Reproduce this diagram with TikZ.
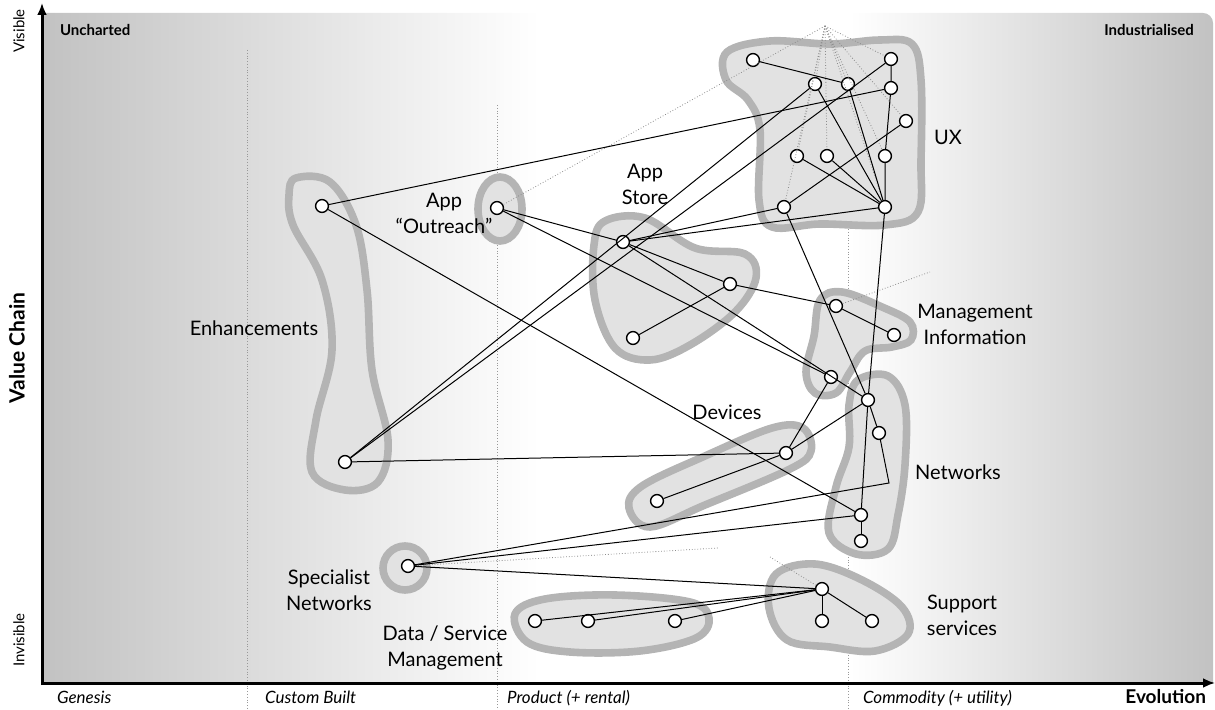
\documentclass[tikz,border=0pt]{standalone}
\usepackage{fontspec}
\setmainfont{Lato}
\usetikzlibrary{arrows.meta}
\definecolor{blobfill}{HTML}{E2E2E2}
\definecolor{blobedge}{HTML}{B4B4B4}
\definecolor{mapshade}{HTML}{C2C2C2}

\begin{document}
\begin{tikzpicture}[x=0.5pt, y=-0.5pt,
  comp/.style={circle, draw, fill=white, line width=0.7pt, minimum size=6.4pt, inner sep=0pt},
  link/.style={line width=0.5pt},
  hint/.style={densely dotted, line width=0.4pt, black!45},
  blob/.style={fill=blobfill, draw=blobedge, line width=3.8pt},
  lbl/.style={font=\fontsize{10}{13}\selectfont, align=center},
  phase/.style={font=\fontsize{8.5}{10}\selectfont\itshape, anchor=base west},
  corner/.style={font=\fontsize{7.5}{9}\selectfont\bfseries},
  divider/.style={densely dotted, line width=0.4pt, black!40},
  axis/.style={line width=1.5pt, -{Latex[length=6pt,width=5pt]}}
]
\useasboundingbox (0,0) rectangle (1215,710);

\begin{scope}
\clip (42,683) -- (42,13) [rounded corners=5pt] -- (1213,13) [sharp corners] -- (1213,683) -- cycle;
\shade[left color=mapshade, right color=white] (42,13) rectangle (540,683);
\shade[left color=white, right color=mapshade] (850,13) rectangle (1213,683);
\end{scope}

\draw[divider] (247,50) -- (247,710);
\draw[divider] (497,105) -- (497,710);
\draw[divider] (848,50) -- (848,710);

% clusters
\draw[blob] plot[smooth cycle, tension=0.6] coordinates {(727,52) (770,41) (830,44) (880,40) (912,44) (921,80) (921,160) (918,212) (885,225) (820,224) (772,227) (759,200) (760,130) (748,100) (726,80)};
\draw[blob] plot[smooth cycle, tension=0.6] coordinates {(296,178) (330,182) (356,225) (367,290) (372,370) (388,440) (378,482) (345,490) (312,472) (316,420) (332,350) (322,280) (293,225) (289,195)};
\draw[blob] (500,209) ellipse [x radius=22, y radius=32];
\draw[blob] plot[smooth cycle, tension=0.6] coordinates {(605,221) (645,218) (695,248) (745,254) (756,278) (735,312) (690,345) (650,360) (615,348) (595,300) (594,245)};
\draw[blob] plot[smooth cycle, tension=0.6] coordinates {(820,300) (842,292) (882,307) (910,322) (911,340) (892,347) (865,351) (850,372) (836,393) (815,393) (806,372) (814,336)};
\draw[blob] plot[smooth cycle, tension=0.6] coordinates {(858,380) (888,376) (905,405) (905,465) (898,515) (888,549) (856,554) (829,533) (836,487) (849,447) (849,405)};
\draw[blob] plot[smooth cycle, tension=0.6] coordinates {(642,486) (705,456) (772,428) (803,428) (811,451) (790,469) (705,505) (650,527) (629,508)};
\draw[blob] (405,568) circle [radius=22];
\draw[blob] plot[smooth cycle, tension=0.6] coordinates {(515,614) (545,599) (615,595) (690,602) (709,618) (696,638) (640,651) (570,652) (527,642)};
\draw[blob] plot[smooth cycle, tension=0.6] coordinates {(776,574) (815,564) (862,580) (902,607) (908,634) (875,651) (830,647) (787,640) (769,608)};

% components
\node[comp] (ux1) at (753,60) {};
\node[comp] (ux2) at (815,84) {};
\node[comp] (ux3) at (848,84) {};
\node[comp] (ux4) at (891,59) {};
\node[comp] (ux5) at (891,88) {};
\node[comp] (ux6) at (906,121) {};
\node[comp] (ux7) at (797,156) {};
\node[comp] (ux8) at (827,156) {};
\node[comp] (ux9) at (885,156) {};
\node[comp] (ux10) at (784,207) {};
\node[comp] (ux11) at (885,207) {};
\node[comp] (enh1) at (322,206) {};
\node[comp] (enh2) at (345,462) {};
\node[comp] (outr) at (497,208) {};
\node[comp] (as1) at (623,242) {};
\node[comp] (as2) at (730,284) {};
\node[comp] (as3) at (633,338) {};
\node[comp] (mi1) at (836,306) {};
\node[comp] (mi2) at (894,335) {};
\node[comp] (mi3) at (831,377) {};
\node[comp] (net1) at (868,400) {};
\node[comp] (net2) at (879,433) {};
\node[comp] (net3) at (861,515) {};
\node[comp] (net4) at (861,541) {};
\node[comp] (dev1) at (786,453) {};
\node[comp] (dev2) at (657,501) {};
\node[comp] (spec) at (408,566) {};
\node[comp] (ds1) at (535,621) {};
\node[comp] (ds2) at (588,621) {};
\node[comp] (ds3) at (675,621) {};
\node[comp] (sup1) at (822,589) {};
\node[comp] (sup2) at (822,621) {};
\node[comp] (sup3) at (872,621) {};

\coordinate (apex) at (825,26);
\coordinate (netbend) at (889,483);
\coordinate (mihint) at (930,272);
\coordinate (spechint) at (718,548);
\coordinate (suphint) at (770,557);

\foreach \n in {ux2,ux3,ux4,ux6,ux7,ux8,ux9,ux10,ux11,outr}
  \draw[hint] (apex) -- (\n);
\draw[hint] (mi1) -- (mihint);
\draw[hint] (spec) -- (spechint);
\draw[hint] (sup1) -- (suphint);

\draw[link] (ux1) -- (ux3);
\draw[link] (ux2) -- (ux11);
\draw[link] (ux3) -- (ux11);
\draw[link] (ux4) -- (ux5) -- (ux9) -- (ux11);
\draw[link] (ux7) -- (ux11);
\draw[link] (ux8) -- (ux11);
\draw[link] (ux6) -- (ux10);
\draw[link] (enh1) -- (ux5);
\draw[link] (enh1) -- (net3);
\draw[link] (enh2) -- (ux2);
\draw[link] (enh2) -- (ux4);
\draw[link] (enh2) -- (dev1);
\draw[link] (outr) -- (as1);
\draw[link] (outr) -- (mi3);
\draw[link] (as1) -- (ux10);
\draw[link] (as1) -- (ux11);
\draw[link] (as1) -- (as2);
\draw[link] (as1) -- (net1);
\draw[link] (as3) -- (as2);
\draw[link] (as2) -- (mi1);
\draw[link] (mi1) -- (mi2);
\draw[link] (mi3) -- (dev1);
\draw[link] (ux10) -- (net1);
\draw[link] (ux11) -- (net1);
\draw[link] (net1) -- (net3);
\draw[link] (net1) -- (net2);
\draw[link] (net2) -- (netbend) -- (spec);
\draw[link] (net3) -- (net4);
\draw[link] (dev1) -- (dev2);
\draw[link] (dev1) -- (net1);
\draw[link] (spec) -- (net3);
\draw[link] (spec) -- (sup1);
\draw[link] (sup1) -- (sup2);
\draw[link] (sup1) -- (sup3);
\draw[link] (ds1) -- (sup1);
\draw[link] (ds2) -- (sup1);
\draw[link] (ds3) -- (sup1);

% labels
\node[lbl] (uxlbl) at (948,137) {UX};
\node[lbl] (aslbl) at (645,184) {App\\Store};
\node[lbl] (outrlbl) at (444,213) {App\\``Outreach''};
\node[lbl] (enhlbl) at (254,328) {Enhancements};
\node[lbl] (milbl) at (975,324) {Management\\Information};
\node[lbl] (devlbl) at (727,412) {Devices};
\node[lbl] (netlbl) at (958,472) {Networks};
\node[lbl] (speclbl) at (329,590) {Specialist\\Networks};
\node[lbl] (dslbl) at (445,648) {Data / Service\\Management};
\node[lbl] (suplbl) at (962,615) {Support\\services};

\node[corner, anchor=west] (unch) at (53,30) {Uncharted};
\node[corner, anchor=east] (indu) at (1201,30) {Industrialised};
\node[font=\fontsize{7.5}{8}\selectfont, rotate=90] (vis) at (19,31) {Visible};
\node[font=\fontsize{7.5}{8}\selectfont, rotate=90] (invis) at (19,640) {Invisible};
\node[font=\fontsize{10.5}{12}\selectfont\bfseries, rotate=90] (vchain) at (17,348) {Value Chain};

\node[phase] (gen) at (50,703) {Genesis};
\node[phase] (cust) at (258,703) {Custom Built};
\node[phase] (prod) at (500,703) {Product (+ rental)};
\node[phase] (comm) at (856,703) {Commodity (+ utility)};
\node[font=\fontsize{9.5}{10}\selectfont\bfseries, anchor=base east] (evo) at (1213,703) {Evolution};

\draw[axis] (42,685) -- (42,3);
\draw[axis] (41,683) -- (1215,683);
\end{tikzpicture}
\end{document}
